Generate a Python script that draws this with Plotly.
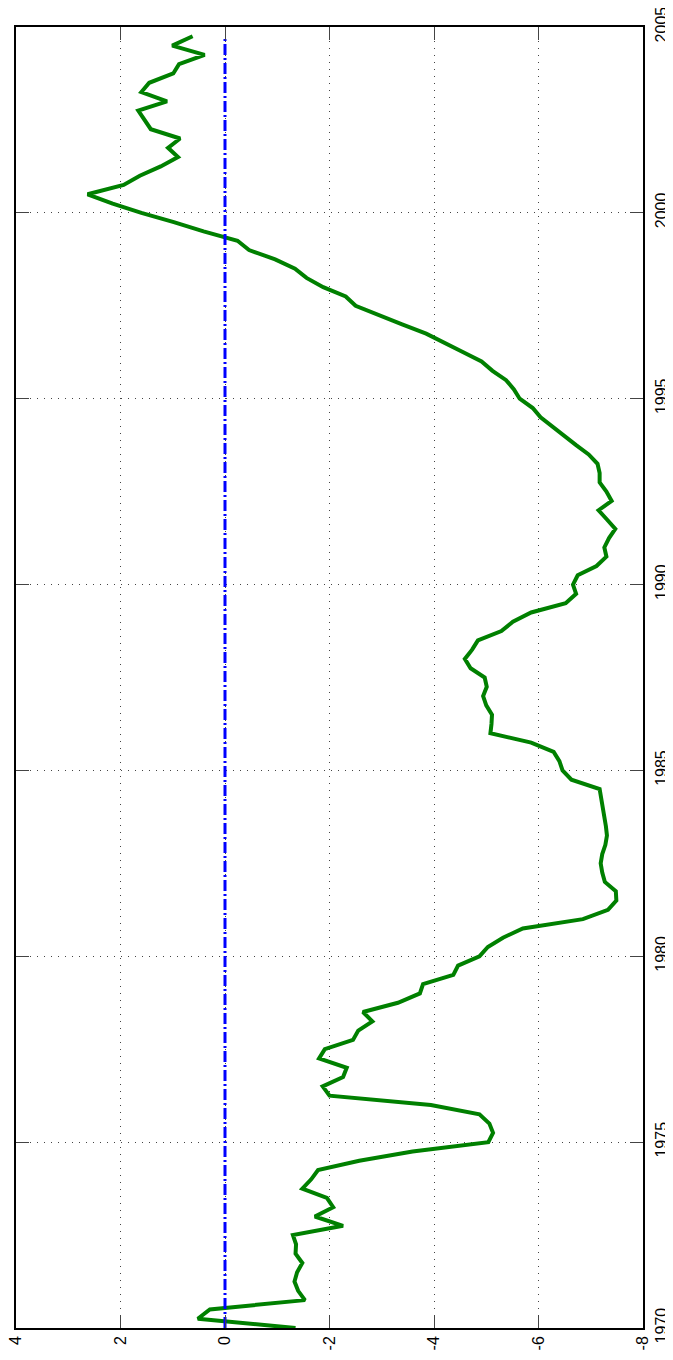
import numpy as np
import plotly.graph_objects as go

# quarterly observations 1970Q1 .. 2004Q4
start_year = 1970
years = start_year + 0.25 * np.arange(140)

values = [
    -1.35, 0.52, 0.29, -1.53,      # 1970
    -1.40, -1.33, -1.38, -1.48,    # 1971
    -1.35, -1.36, -1.30, -2.26,    # 1972
    -1.72, -2.07, -1.95, -1.48,    # 1973
    -1.65, -1.78, -2.57, -3.59,    # 1974
    -5.04, -5.13, -5.06, -4.87,    # 1975
    -3.94, -2.00, -1.87, -2.26,    # 1976
    -2.33, -1.80, -1.91, -2.45,    # 1977
    -2.55, -2.82, -2.64, -3.31,    # 1978
    -3.73, -3.79, -4.37, -4.46,    # 1979
    -4.87, -5.03, -5.32, -5.70,    # 1980
    -6.85, -7.33, -7.49, -7.48,    # 1981
    -7.27, -7.22, -7.19, -7.22,    # 1982
    -7.28, -7.31, -7.29, -7.26,    # 1983
    -7.23, -7.19, -7.17, -6.63,    # 1984
    -6.46, -6.40, -6.29, -5.86,    # 1985
    -5.08, -5.10, -5.11, -5.00,    # 1986
    -4.94, -5.01, -4.97, -4.70,    # 1987
    -4.59, -4.73, -4.84, -5.29,    # 1988
    -5.51, -5.86, -6.52, -6.72,    # 1989
    -6.66, -6.75, -7.11, -7.30,    # 1990
    -7.26, -7.35, -7.47, -7.31,    # 1991
    -7.15, -7.40, -7.30, -7.17,    # 1992
    -7.17, -7.13, -6.96, -6.72,    # 1993
    -6.49, -6.26, -6.04, -5.89,    # 1994
    -5.64, -5.53, -5.38, -5.12,    # 1995
    -4.91, -4.56, -4.20, -3.85,    # 1996
    -3.39, -2.93, -2.50, -2.31,    # 1997
    -1.88, -1.56, -1.34, -0.96,    # 1998
    -0.46, -0.24, 0.41, 0.98,      # 1999
    1.60, 2.15, 2.63, 1.94,        # 2000
    1.63, 1.23, 0.90, 1.09,        # 2001
    0.86, 1.42, 1.55, 1.66,        # 2002
    1.11, 1.60, 1.45, 0.99,        # 2003
    0.88, 0.39, 1.01, 0.62,        # 2004
]
zero_line = [0.0] * len(values)

value_ticks = [4, 2, 0, -2, -4, -6, -8]
value_tick_labels = ["4", "2", "0", "-2", "-4", "-6", "-8"]
year_ticks = [1970, 1975, 1980, 1985, 1990, 1995, 2000, 2005]
year_tick_labels = [str(y) for y in year_ticks]

fig = go.Figure()
fig.add_trace(go.Scatter(
    x=values, y=years, mode="lines",
    line=dict(color="rgb(0,128,0)", width=4),
    showlegend=False,
))
fig.add_trace(go.Scatter(
    x=zero_line, y=years, mode="lines",
    line=dict(color="rgb(0,0,255)", width=3, dash="11px,3px,2px,3px"),
    showlegend=False,
))

font = dict(family="Liberation Sans, Arial, sans-serif", size=16, color="black")

fig.update_layout(
    width=665, height=1344,
    margin=dict(l=8, r=30, t=19, b=24),
    paper_bgcolor="white", plot_bgcolor="white",
    font=font,
    xaxis=dict(
        range=[4, -8], tickvals=value_ticks, ticktext=value_tick_labels,
        tickangle=-90, ticks="inside", ticklen=13, tickcolor="#444",
        showline=True, linecolor="black", linewidth=1.5, mirror="ticks",
        showgrid=True, gridcolor="#444", gridwidth=1, griddash="1px,6px",
        zeroline=False, automargin=False, tickfont=font,
        ticklabeloverflow="allow",
    ),
    yaxis=dict(
        range=[1970, 2005], tickvals=year_ticks, ticktext=year_tick_labels,
        side="right", tickangle=-90, ticks="inside", ticklen=13, tickcolor="#444",
        showline=True, linecolor="black", linewidth=1.5, mirror="ticks",
        showgrid=True, gridcolor="#444", gridwidth=1, griddash="1px,6px",
        zeroline=False, automargin=False, tickfont=font,
        ticklabeloverflow="allow", ticklabelstandoff=3,
    ),
)

fig.write_html("out.html")
